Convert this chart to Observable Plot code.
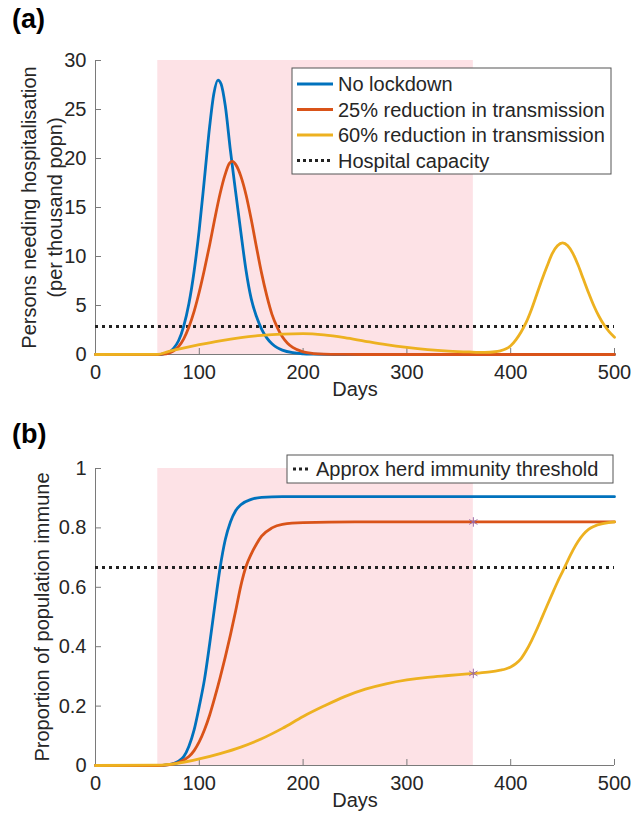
<!DOCTYPE html>
<html><head><meta charset="utf-8">
<script src="https://cdn.jsdelivr.net/npm/d3@7"></script>
<script src="https://cdn.jsdelivr.net/npm/@observablehq/plot@0.6"></script>
<style>
body{margin:0;background:#fff;}
#wrap{position:relative;width:634px;height:823px;font-family:"Liberation Sans",Arial,sans-serif;overflow:hidden;}
.plab{position:absolute;left:12px;font-weight:bold;font-size:27px;color:#000;line-height:1;}
.pan{position:absolute;left:0;}
</style></head><body><div id="wrap"></div>
<script>
const xTicks = [0, 100, 200, 300, 400, 500];
const yTicksA = [0, 5, 10, 15, 20, 25, 30];
const yTicksB = [0, 0.2, 0.4, 0.6, 0.8, 1];
const lockdown = [60, 364];
const hospitalCapacity = 2.85;
const herdThreshold = 0.667;
const seriesNames = ["No lockdown", "25% reduction in transmission", "60% reduction in transmission"];
const seriesColors = ["#0072BD", "#D95319", "#EDB120"];

// Panel (a): persons needing hospitalisation (per thousand), [day, value]
const hospNoLockdown = [[0,0],[60,0],[65,0.05],[70,0.2],[75,0.6],[80,1.4],[85,2.9],[90,5.2],[95,8.5],[100,12.8],[105,18.0],[110,23.3],[114,26.6],[118,28.0],[121,27.6],[125,25.4],[130,20.8],[135,16.6],[140,12.5],[145,8.6],[150,5.7],[155,3.9],[160,2.6],[165,1.7],[170,1.1],[175,0.7],[180,0.45],[190,0.18],[200,0.07],[210,0.03],[230,0],[500,0]];
const hosp25 = [[0,0],[60,0],[65,0.03],[70,0.12],[75,0.35],[80,0.8],[85,1.6],[90,2.8],[95,4.4],[100,6.4],[105,8.7],[110,11.2],[115,13.9],[120,16.4],[125,18.4],[129,19.5],[132,19.7],[135,19.4],[140,18.2],[145,16.3],[150,13.8],[155,11.0],[160,8.3],[165,6.0],[170,4.1],[175,2.8],[180,1.8],[185,1.15],[190,0.72],[200,0.27],[210,0.1],[220,0.04],[240,0.01],[260,0],[500,0]];
const hosp60 = [[0,0],[60,0.02],[70,0.3],[80,0.55],[90,0.78],[100,1.0],[120,1.4],[140,1.72],[160,1.95],[180,2.08],[200,2.12],[220,2.0],[240,1.72],[260,1.35],[280,1.0],[300,0.72],[320,0.5],[340,0.35],[360,0.26],[375,0.22],[385,0.28],[390,0.38],[395,0.55],[400,0.9],[405,1.5],[410,2.3],[415,3.3],[420,4.6],[425,6.1],[430,7.6],[435,9.0],[440,10.3],[445,11.1],[450,11.4],[455,11.1],[460,10.3],[465,9.1],[470,7.7],[475,6.3],[480,5.0],[485,3.9],[490,3.0],[495,2.3],[500,1.75]];

// Panel (b): proportion of population immune, [day, value]
const immNoLockdown = [[0,0],[60,0],[70,0.003],[80,0.015],[85,0.03],[90,0.065],[95,0.12],[100,0.2],[105,0.29],[110,0.41],[115,0.54],[120,0.665],[125,0.76],[130,0.82],[135,0.858],[140,0.878],[150,0.896],[160,0.903],[180,0.905],[500,0.905]];
const imm25 = [[0,0],[60,0],[70,0.002],[80,0.01],[90,0.03],[95,0.05],[100,0.08],[105,0.12],[110,0.17],[115,0.23],[120,0.295],[125,0.365],[130,0.44],[135,0.52],[140,0.605],[145,0.67],[150,0.712],[155,0.745],[160,0.772],[170,0.8],[180,0.812],[200,0.818],[250,0.82],[500,0.82]];
const imm60 = [[0,0],[60,0.001],[80,0.008],[100,0.022],[120,0.04],[140,0.062],[160,0.09],[180,0.125],[200,0.165],[220,0.2],[240,0.232],[260,0.257],[280,0.275],[300,0.288],[320,0.297],[340,0.303],[364,0.31],[380,0.315],[390,0.321],[395,0.325],[400,0.332],[405,0.343],[410,0.36],[415,0.387],[420,0.42],[425,0.457],[430,0.497],[435,0.538],[440,0.578],[445,0.617],[450,0.653],[455,0.69],[460,0.725],[465,0.755],[470,0.778],[475,0.795],[480,0.805],[490,0.815],[500,0.82]];
const lockdownEndMarks = [[364, 0.82], [364, 0.31]];

const FONT = '"Liberation Sans", Arial, sans-serif';
const FS = 20;
const AX = "#7a7a7a";
const TXT = "#262626";
const W = 634, ML = 95, MR = 20;

function makePanel({height, mt, mb, yDomain, yTicks, series, hline, ylabels, stars}) {
  const innerH = height - mt - mb, innerW = W - ML - MR;
  const marks = [
    Plot.rect([lockdown], {x1: d => d[0], x2: d => d[1], y1: yDomain[0], y2: yDomain[1], fill: "#fde2e6"}),
    Plot.ruleY([yDomain[0]], {stroke: AX, strokeWidth: 1}),
    Plot.ruleX([0], {stroke: AX, strokeWidth: 1}),
    Plot.tickX(xTicks, {x: d => d, insetTop: innerH - 6, stroke: AX}),
    Plot.tickY(yTicks, {y: d => d, insetRight: innerW - 6, stroke: AX}),
    Plot.axisX(xTicks, {tickSize: 0, tickPadding: 10, label: null, fontSize: FS, fill: TXT}),
    Plot.axisY(yTicks, {tickSize: 0, tickPadding: 9, label: null, fontSize: FS, fill: TXT, tickFormat: d => String(d)}),
    Plot.text(["Days"], {frameAnchor: "bottom", dy: 41, text: d => d, fontSize: FS, fill: TXT, textAnchor: "middle"}),
    ...ylabels.map(([t, dx]) => Plot.text([t], {frameAnchor: "left", rotate: -90, dx, text: d => d, fontSize: FS, fill: TXT, textAnchor: "middle"})),
    Plot.ruleY([hline], {stroke: "#222", strokeWidth: 3, strokeDasharray: "3,4"}),
    ...series.map((s, i) => Plot.line(s, {x: d => d[0], y: d => d[1], stroke: seriesColors[i], strokeWidth: 2.8, curve: "monotone-x"}))
  ];
  if (stars) marks.push(Plot.dot(stars, {x: d => d[0], y: d => d[1], symbol: "asterisk", r: 4.5, stroke: "#9b6aa8", strokeWidth: 1}));
  return Plot.plot({
    width: W, height, marginLeft: ML, marginRight: MR, marginTop: mt, marginBottom: mb,
    style: {fontFamily: FONT, fontSize: FS + "px", color: TXT, background: "transparent", overflow: "visible"},
    x: {domain: [0, 500]},
    y: {domain: yDomain},
    marks
  });
}

const wrap = document.getElementById("wrap");

const svgA = makePanel({height: 420, mt: 60, mb: 66, yDomain: [0, 30], yTicks: yTicksA,
  series: [hospNoLockdown, hosp25, hosp60], hline: hospitalCapacity,
  ylabels: [["Persons needing hospitalisation", -66], ["(per thousand popn)", -40]]});
svgA.classList.add("pan"); svgA.style.top = "0px";
wrap.appendChild(svgA);

const svgB = makePanel({height: 403, mt: 48, mb: 58, yDomain: [0, 1], yTicks: yTicksB,
  series: [immNoLockdown, imm25, imm60], hline: herdThreshold,
  ylabels: [["Proportion of population immune", -53]], stars: lockdownEndMarks});
svgB.classList.add("pan"); svgB.style.top = "420px";
wrap.appendChild(svgB);

// legends
function legend(svg, box, rows) {
  const g = d3.select(svg).append("g").attr("font-family", FONT).attr("font-size", FS).attr("text-anchor", "start");
  g.append("rect").attr("x", box.x).attr("y", box.y).attr("width", box.w).attr("height", box.h)
    .attr("fill", "#fff").attr("stroke", "#555").attr("stroke-width", 1);
  rows.forEach(r => {
    const ln = g.append("line").attr("x1", box.l1).attr("x2", box.l2).attr("y1", r.y).attr("y2", r.y)
      .attr("stroke", r.color).attr("stroke-width", r.dash ? 3 : 2.8);
    if (r.dash) ln.attr("stroke-dasharray", "3,3");
    g.append("text").attr("x", box.tx).attr("y", r.y).attr("dy", "0.35em").attr("fill", TXT)
      .attr("text-anchor", "start").text(r.label);
  });
}
legend(svgA, {x: 292, y: 68, w: 319, h: 106, l1: 297, l2: 333, tx: 338}, [
  {y: 84, color: seriesColors[0], label: seriesNames[0]},
  {y: 109.5, color: seriesColors[1], label: seriesNames[1]},
  {y: 135, color: seriesColors[2], label: seriesNames[2]},
  {y: 160.5, color: "#222", dash: true, label: "Hospital capacity"}
]);
legend(svgB, {x: 287, y: 35, w: 326, h: 28, l1: 293, l2: 311, tx: 316}, [
  {y: 49, color: "#222", dash: true, label: "Approx herd immunity threshold"}
]);

const la = document.createElement("div"); la.className = "plab"; la.style.top = "6px"; la.textContent = "(a)"; wrap.appendChild(la);
const lb = document.createElement("div"); lb.className = "plab"; lb.style.top = "421px"; lb.textContent = "(b)"; wrap.appendChild(lb);
</script>
</body></html>
